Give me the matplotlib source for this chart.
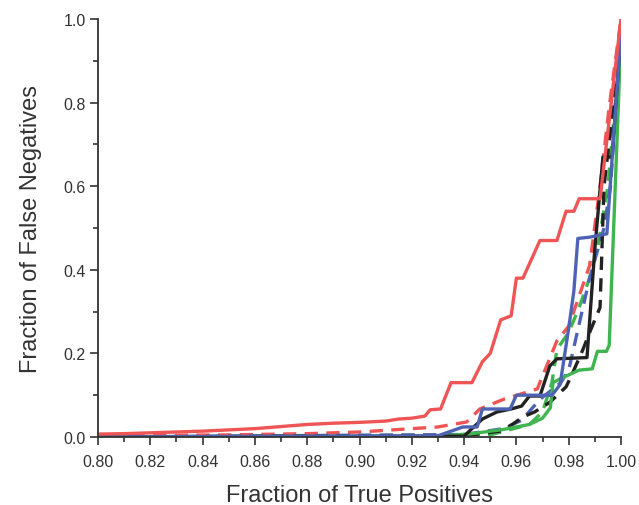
import matplotlib
matplotlib.use("Agg")
import matplotlib.pyplot as plt
from matplotlib.ticker import MultipleLocator

plt.rcParams['font.family'] = ['Liberation Sans', 'DejaVu Sans']

red_solid_x = [0.80, 0.81, 0.82, 0.83, 0.84, 0.85, 0.86, 0.87, 0.88, 0.89, 0.90, 0.91, 0.915, 0.92, 0.925,
               0.927, 0.931, 0.935, 0.943, 0.947, 0.950, 0.954, 0.958, 0.960, 0.9625, 0.969, 0.9755,
               0.979, 0.982, 0.984, 0.992, 1.0]
red_solid_y = [0.007, 0.008, 0.010, 0.012, 0.014, 0.017, 0.020, 0.025, 0.030, 0.033, 0.035, 0.038, 0.043, 0.045, 0.050,
               0.065, 0.067, 0.13, 0.13, 0.18, 0.20, 0.28, 0.29, 0.38, 0.38, 0.47, 0.47,
               0.54, 0.54, 0.57, 0.57, 1.0]

red_dash_x = [0.80, 0.85, 0.88, 0.90, 0.93, 0.941, 0.946, 0.955, 0.968, 0.9755, 0.980, 0.988, 0.992, 0.9955, 1.0]
red_dash_y = [0.003, 0.005, 0.008, 0.012, 0.024, 0.036, 0.067, 0.09, 0.115, 0.23, 0.265, 0.41, 0.6, 0.79, 1.0]

green_dash_x = [0.80, 0.95, 0.965, 0.97, 0.9736, 0.9755, 0.980, 0.984, 0.988, 0.9912, 0.995, 1.0]
green_dash_y = [0.0, 0.005, 0.03, 0.06, 0.13, 0.21, 0.25, 0.31, 0.38, 0.457, 0.6, 0.96]

green_solid_x = [0.80, 0.93, 0.943, 0.955, 0.965, 0.970, 0.973, 0.974, 0.977, 0.984, 0.989, 0.991, 0.9945, 0.9955, 1.0]
green_solid_y = [0.0, 0.002, 0.008, 0.018, 0.03, 0.045, 0.07, 0.13, 0.14, 0.16, 0.163, 0.205, 0.205, 0.22, 0.96]

blue_dash_x = [0.80, 0.94, 0.955, 0.962, 0.969, 0.977, 0.980, 0.984, 0.988, 0.9935, 0.996, 1.0]
blue_dash_y = [0.0, 0.006, 0.02, 0.04, 0.09, 0.13, 0.16, 0.27, 0.38, 0.5, 0.6, 0.97]

black_dash_x = [0.80, 0.94, 0.955, 0.9625, 0.967, 0.9728, 0.979, 0.981, 0.9855, 0.988, 0.992, 0.9935, 0.995, 1.0]
black_dash_y = [0.0, 0.003, 0.015, 0.048, 0.06, 0.083, 0.12, 0.146, 0.21, 0.25, 0.31, 0.6, 0.68, 0.97]

black_solid_x = [0.80, 0.94, 0.943, 0.947, 0.9526, 0.958, 0.962, 0.965, 0.969, 0.9728, 0.9755, 0.987, 0.990, 0.9931, 0.9966, 1.0]
black_solid_y = [0.0, 0.002, 0.02, 0.043, 0.06, 0.067, 0.074, 0.098, 0.098, 0.17, 0.187, 0.19, 0.45, 0.67, 0.67, 0.97]

blue_solid_x = [0.80, 0.93, 0.9396, 0.945, 0.947, 0.9576, 0.960, 0.9736, 0.9767, 0.980, 0.982, 0.9835, 0.988, 0.9946, 1.0]
blue_solid_y = [0.0, 0.003, 0.024, 0.024, 0.067, 0.067, 0.10, 0.10, 0.125, 0.26, 0.35, 0.475, 0.478, 0.486, 0.97]

x_ticks = [0.80, 0.82, 0.84, 0.86, 0.88, 0.90, 0.92, 0.94, 0.96, 0.98, 1.00]
y_ticks = [0.0, 0.2, 0.4, 0.6, 0.8, 1.0]

RED = '#f05555'
BLUE = '#4f63b5'
GREEN = '#3fb54f'
BLACK = '#222222'

fig = plt.figure(figsize=(6.39, 5.06), dpi=100)
ax = fig.add_axes([0.1534, 0.1344, 0.8184, 0.8261])

lw = 2.4
dash = (4, 2.5)
ax.plot(green_dash_x, green_dash_y, color=GREEN, lw=lw, ls=(0, dash))
ax.plot(red_dash_x, red_dash_y, color=RED, lw=lw, ls=(3, dash))
ax.plot(blue_dash_x, blue_dash_y, color=BLUE, lw=lw, ls=(0, dash))
ax.plot(black_dash_x, black_dash_y, color=BLACK, lw=lw, ls=(0, dash))
ax.plot(green_solid_x, green_solid_y, color=GREEN, lw=lw)
ax.plot(black_solid_x, black_solid_y, color=BLACK, lw=lw)
ax.plot(blue_solid_x, blue_solid_y, color=BLUE, lw=lw)
ax.plot(red_solid_x, red_solid_y, color=RED, lw=lw)

ax.set_xlim(0.80, 1.00)
ax.set_ylim(0.0, 1.0)
ax.set_xticks(x_ticks)
ax.set_xticklabels([f"{v:.2f}" for v in x_ticks])
ax.set_yticks(y_ticks)
ax.set_yticklabels([f"{v:.1f}" for v in y_ticks])
ax.xaxis.set_minor_locator(MultipleLocator(0.01))
ax.yaxis.set_minor_locator(MultipleLocator(0.1))

for s in ['top', 'right']:
    ax.spines[s].set_visible(False)
for s in ['left', 'bottom']:
    ax.spines[s].set_color('#333333')
    ax.spines[s].set_linewidth(1.3)

ax.tick_params(which='major', direction='out', length=6, width=1.2, color='#333333',
               labelsize=11.5, labelcolor='#333333', pad=3)
ax.tick_params(axis='x', which='major', pad=6)
ax.tick_params(which='minor', direction='out', length=3.5, width=1.2, color='#333333')

ax.set_xlabel('Fraction of True Positives', fontsize=17, color='#333333', labelpad=11)
ax.set_ylabel('Fraction of False Negatives', fontsize=17, color='#333333', labelpad=15)

fig.savefig('out.png', dpi=100)
